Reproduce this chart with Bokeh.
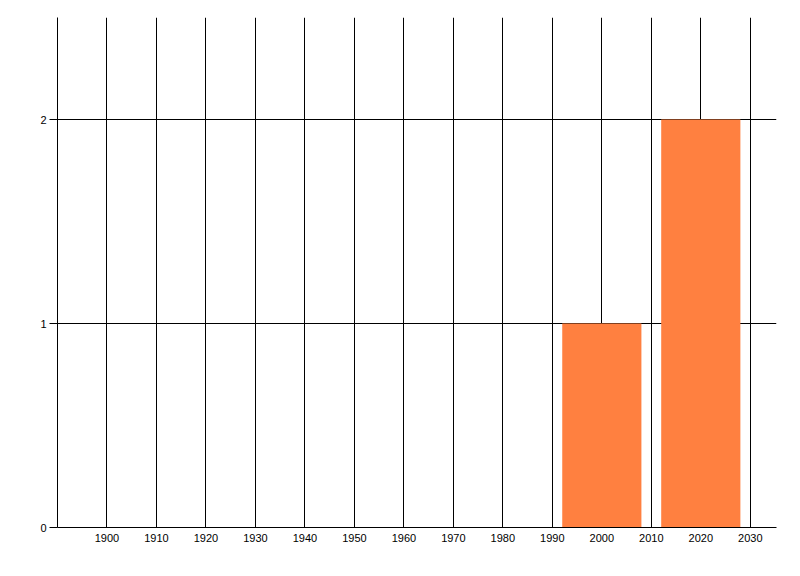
from bokeh.plotting import figure
from bokeh.models import FixedTicker, Range1d
from bokeh.embed import file_html
from bokeh.resources import INLINE

years = [2000, 2020]
counts = [1, 2]
x_ticks = list(range(1900, 2031, 10))
y_ticks = [0, 1, 2]

p = figure(width=792, height=568, output_backend="svg", toolbar_location=None,
           x_range=Range1d(1890, 2035.3), y_range=Range1d(0, 2.5),
           min_border_left=57, min_border_right=16, min_border_top=17, min_border_bottom=41)
p.frame_width = 719
p.frame_height = 510
p.outline_line_color = None
p.background_fill_color = "white"
p.border_fill_color = "white"

p.vbar(x=years, top=counts, width=16, bottom=0, fill_color="#FF8040", line_color=None)

p.xaxis.ticker = FixedTicker(ticks=x_ticks)
p.yaxis.ticker = FixedTicker(ticks=y_ticks)
p.xgrid.ticker = FixedTicker(ticks=x_ticks)
p.ygrid.ticker = FixedTicker(ticks=y_ticks)
for g in (p.xgrid, p.ygrid):
    g.grid_line_color = "black"
    g.grid_line_alpha = 1.0
    g.grid_line_width = 1
    g.level = "underlay"

for ax in (p.xaxis, p.yaxis):
    ax.axis_line_color = "black"
    ax.axis_line_width = 1
    ax.minor_tick_line_color = None
    ax.major_label_text_font = "Liberation Sans"
    ax.major_label_text_font_size = "11px"
    ax.major_label_text_color = "black"

p.xaxis.major_tick_out = 0
p.xaxis.major_tick_in = 0
p.xaxis.major_label_standoff = 6
p.yaxis.major_tick_out = 8
p.yaxis.major_tick_in = 0
p.yaxis.major_tick_line_color = "black"
p.yaxis.major_label_standoff = 3

open("out.html", "w").write(file_html(p, INLINE))
